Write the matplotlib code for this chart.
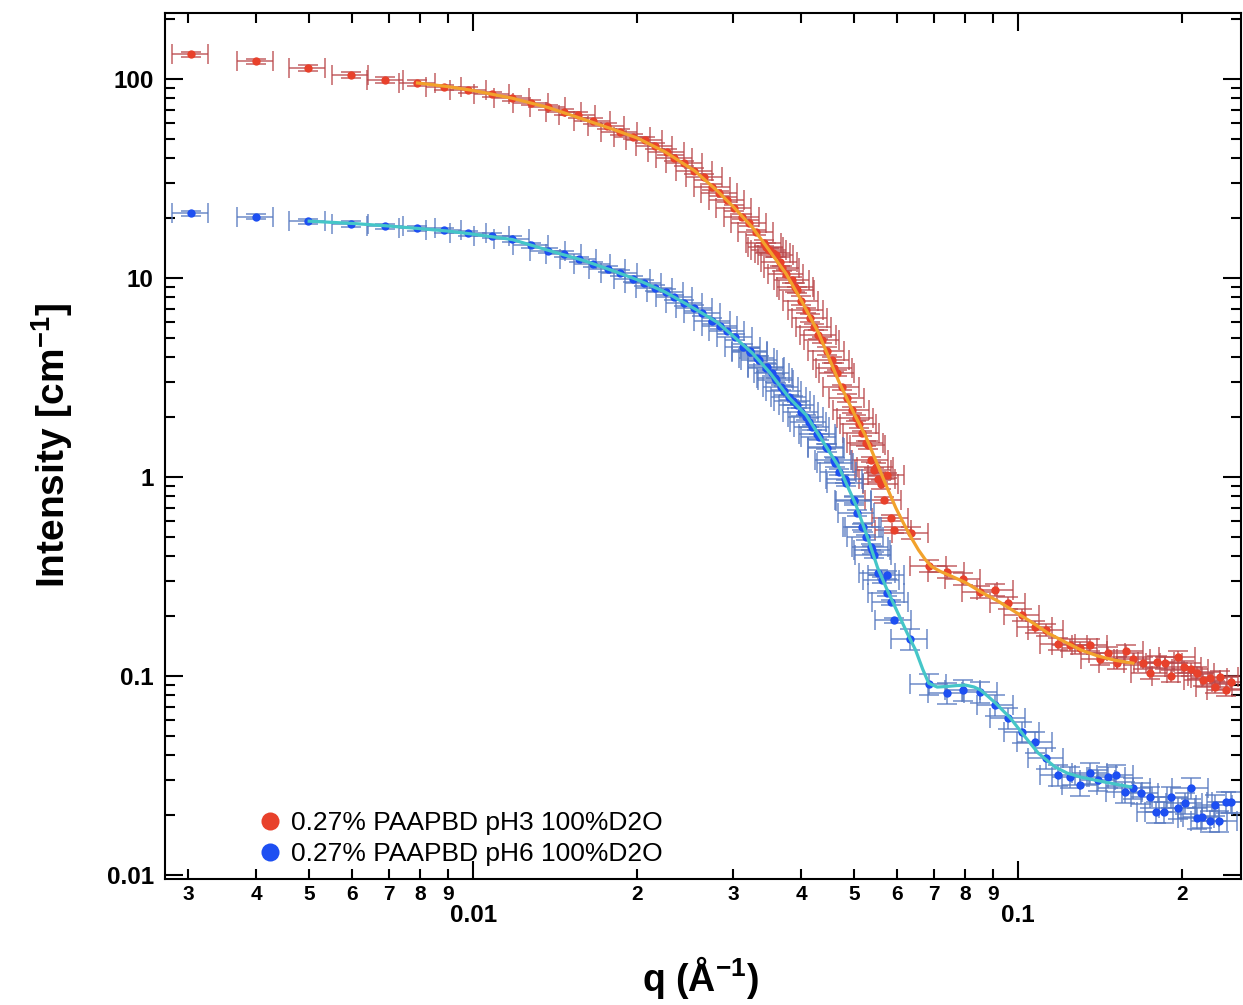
import numpy as np
import matplotlib
matplotlib.use("Agg")
import matplotlib.pyplot as plt
from matplotlib.ticker import FixedLocator, FixedFormatter, NullFormatter
from matplotlib.lines import Line2D

plt.rcParams['font.family'] = ['Liberation Sans', 'DejaVu Sans']
plt.rcParams['font.weight'] = 'bold'
plt.rcParams['mathtext.fontset'] = 'custom'
plt.rcParams['mathtext.rm'] = 'Liberation Sans:bold'
plt.rcParams['mathtext.bf'] = 'Liberation Sans:bold'

# ---------------- data ----------------
series_labels = ["0.27% PAAPBD pH3 100%D2O", "0.27% PAAPBD pH6 100%D2O"]

# pH3 (red) - low-q configuration
q_red_low = [0.00303, 0.00399, 0.00497, 0.00596, 0.00690, 0.00790, 0.00885, 0.00980,
             0.01083, 0.01178, 0.01277, 0.01371, 0.01467, 0.01556, 0.01657, 0.01758,
             0.01857, 0.01961, 0.02063, 0.02151, 0.02263, 0.02340, 0.02441, 0.02546,
             0.02656, 0.02747, 0.02829, 0.02926, 0.03013, 0.03116, 0.03209, 0.03305,
             0.03418, 0.03491, 0.03596, 0.03687, 0.03846, 0.03930, 0.04080, 0.04220,
             0.04364, 0.04551, 0.04649, 0.04747, 0.04951, 0.05035, 0.05164, 0.05252,
             0.05363, 0.05431, 0.05523, 0.05665, 0.05737, 0.05834, 0.05908]
I_red_low = [133, 123, 113.6, 104.7, 98.9, 95.5, 91, 88,
             84, 80, 76, 72, 68.3, 65.9, 61.5, 58.1,
             54.2, 51.2, 49.4, 46.1, 43.0, 40.1, 37.8, 34.5,
             32.2, 28.7, 26.7, 24.7, 22.5, 20.3, 18.9, 17.0,
             15.0, 13.8, 13.1, 11.2, 9.77, 8.71, 6.90, 5.67,
             4.88, 3.87, 3.33, 2.83, 2.17, 1.98, 1.66, 1.48,
             1.22, 1.08, 0.977, 0.766, 1.02, 0.622, 0.542]
# pH3 - overlapping mid configuration
q_red_mid = [0.0345, 0.0355, 0.0365, 0.0375, 0.0390, 0.0400, 0.0415, 0.0430,
             0.0445, 0.0460, 0.0485, 0.0510, 0.0530, 0.0548, 0.0560]
I_red_mid = [14.3, 13.4, 12.1, 10.5, 9.0, 7.7, 6.3, 5.2,
             4.3, 3.55, 2.5, 1.85, 1.45, 1.12, 0.92]
# pH3 - high-q configuration
q_red_high = [0.0635, 0.0685, 0.0739, 0.0793, 0.0852, 0.0908, 0.0959, 0.1017,
              0.1074, 0.1125, 0.1183, 0.1245, 0.1298, 0.1354, 0.1412, 0.1460,
              0.1520, 0.1576, 0.1623, 0.1693, 0.1743, 0.1795, 0.1857, 0.1904,
              0.1961, 0.2012, 0.2072, 0.2125, 0.2179, 0.2244, 0.2292, 0.2350,
              0.2401, 0.2452]
I_red_high = [0.524, 0.357, 0.333, 0.307, 0.264, 0.270, 0.233, 0.203,
              0.176, 0.170, 0.145, 0.143, 0.138, 0.143, 0.122, 0.131,
              0.116, 0.134, 0.122, 0.116, 0.1035, 0.1175, 0.116, 0.100,
              0.1245, 0.111, 0.108, 0.1035, 0.0955, 0.0977, 0.088, 0.0988,
              0.085, 0.093]

# pH6 (blue) - low-q configuration
q_blue_low = [0.00303, 0.00399, 0.00497, 0.00596, 0.00690, 0.00790, 0.00885, 0.00980,
              0.01083, 0.01178, 0.01277, 0.01371, 0.01467, 0.01562, 0.01657, 0.01766,
              0.01857, 0.01961, 0.02054, 0.02151, 0.02254, 0.02340, 0.02441, 0.02546,
              0.02633, 0.02747, 0.02838, 0.02926, 0.03025, 0.03128, 0.03219, 0.03318,
              0.03452, 0.03535, 0.03596, 0.03671, 0.03797, 0.03930, 0.04080, 0.04184,
              0.04309, 0.04438, 0.04590, 0.04688, 0.04828, 0.04993, 0.05056, 0.05164,
              0.05252, 0.05363, 0.05431, 0.05523, 0.05618, 0.05737, 0.05834, 0.05908]
I_blue_low = [21.2, 20.3, 19.3, 18.7, 18.2, 17.8, 17.4, 16.8,
              16.3, 15.7, 14.6, 13.7, 13.2, 12.45, 11.75, 11.1,
              10.6, 9.89, 9.44, 8.91, 8.51, 8.02, 7.49, 7.07,
              6.67, 6.08, 5.74, 5.42, 5.05, 4.50, 4.30, 3.96,
              3.57, 3.33, 3.07, 2.83, 2.52, 2.30, 2.00, 1.78,
              1.59, 1.42, 1.22, 1.06, 0.933, 0.766, 0.659, 0.561,
              0.499, 0.445, 0.406, 0.330, 0.304, 0.261, 0.235, 0.191]
# pH6 - overlapping mid configuration
q_blue_mid = [0.0322, 0.0335, 0.0345, 0.0358, 0.0372, 0.0386, 0.0400, 0.0413,
              0.0428, 0.0445, 0.0462, 0.0480, 0.0500, 0.0520, 0.0540, 0.0574]
I_blue_mid = [4.25, 3.85, 3.55, 3.15, 2.72, 2.42, 2.12, 1.88,
              1.64, 1.40, 1.18, 0.98, 0.76, 0.56, 0.43, 0.322]
# pH6 - high-q configuration
q_blue_high = [0.0632, 0.0685, 0.0739, 0.0793, 0.0852, 0.0908, 0.0959, 0.1017,
               0.1074, 0.1125, 0.1183, 0.1245, 0.1298, 0.1354, 0.1401, 0.1460,
               0.1511, 0.1569, 0.1623, 0.1679, 0.1743, 0.1787, 0.1849, 0.1904,
               0.1961, 0.2020, 0.2072, 0.2125, 0.2170, 0.2244, 0.2292, 0.2340,
               0.2401, 0.2452]
I_blue_high = [0.1535, 0.0912, 0.0822, 0.0851, 0.0832, 0.0715, 0.0615, 0.0524,
               0.0466, 0.0387, 0.0318, 0.0311, 0.0283, 0.0326, 0.030, 0.0311,
               0.0318, 0.0261, 0.0273, 0.0258, 0.0247, 0.0207, 0.0207, 0.0247,
               0.0217, 0.0230, 0.0273, 0.0193, 0.0195, 0.0187, 0.0225, 0.0187,
               0.0233, 0.0233]

# model fits
q_fit_red = [0.0079, 0.0090, 0.0100, 0.0118, 0.0137, 0.0160, 0.0180, 0.0200, 0.0225,
             0.0255, 0.0280, 0.0300, 0.0325, 0.0349, 0.0375, 0.0400, 0.0430, 0.0469,
             0.0499, 0.0525, 0.0552, 0.0575, 0.0596, 0.0615, 0.0635, 0.0656, 0.0675,
             0.0693, 0.0720, 0.0745, 0.0800, 0.0855, 0.0920, 0.0987, 0.1060, 0.1135,
             0.1220, 0.1304, 0.1400, 0.1504, 0.1623]
I_fit_red = [95.5, 91.5, 87.5, 80, 72.0, 62.5, 56, 50.5, 43,
             34.5, 27.5, 22.8, 18.0, 13.8, 10.5, 7.7, 5.3, 3.0,
             2.1, 1.6, 1.15, 0.88, 0.70, 0.59, 0.50, 0.43, 0.385,
             0.355, 0.335, 0.322, 0.295, 0.264, 0.237, 0.210, 0.186, 0.164,
             0.148, 0.135, 0.126, 0.120, 0.116]
q_fit_blue = [0.0050, 0.0060, 0.0069, 0.0080, 0.0090, 0.0100, 0.0118, 0.0137, 0.0160,
              0.0180, 0.0200, 0.0225, 0.0255, 0.0280, 0.0300, 0.0325, 0.0350, 0.0380,
              0.0408, 0.0440, 0.0469, 0.0504, 0.0530, 0.0552, 0.0575, 0.0600, 0.0625,
              0.0648, 0.0668, 0.0685, 0.0710, 0.0739, 0.0770, 0.0800, 0.0830, 0.0852,
              0.0880, 0.0908, 0.0967, 0.1030, 0.1088, 0.1168, 0.1230, 0.1304, 0.1442,
              0.1609]
I_fit_blue = [19.3, 18.8, 18.3, 17.7, 17.2, 16.6, 15.6, 13.8, 12.2,
              10.9, 9.8, 8.5, 7.0, 6.0, 5.1, 4.2, 3.35, 2.5,
              2.05, 1.48, 1.12, 0.72, 0.49, 0.35, 0.27, 0.21, 0.165,
              0.135, 0.108, 0.092, 0.088, 0.0886, 0.0895, 0.090, 0.088, 0.0851,
              0.079, 0.0732, 0.0615, 0.0493, 0.041, 0.0349, 0.0325, 0.031, 0.0293,
              0.0277]

# relative uncertainties (resolution dq/q and dI/I per configuration)
DQ_REL = 0.075
DI_REL_LOW = 0.03
DI_REL_MID = 0.05
DI_REL_HIGH_RED = 0.07
DI_REL_HIGH_BLUE = 0.12

x_minor_ticks = [0.003, 0.004, 0.005, 0.006, 0.007, 0.008, 0.009,
                 0.02, 0.03, 0.04, 0.05, 0.06, 0.07, 0.08, 0.09, 0.2]
x_minor_labels = ['3', '4', '5', '6', '7', '8', '9',
                  '2', '3', '4', '5', '6', '7', '8', '9', '2']
x_major_ticks = [0.01, 0.1]
x_major_labels = ['0.01', '0.1']
y_major_ticks = [0.01, 0.1, 1, 10, 100]
y_major_labels = ['0.01', '0.1', '1', '10', '100']

# ---------------- styling ----------------
RED_BAR = '#b9474a'
RED_DOT = '#e8412b'
BLUE_BAR = '#5578c0'
BLUE_DOT = '#1d4ff2'
ORANGE = '#f2a22c'
CYAN = '#45c6c8'

fig = plt.figure(figsize=(12.43, 10.05), dpi=100)
ax = fig.add_axes([0.1327, 0.1254, 0.8657, 0.8617])
ax.set_xscale('log')
ax.set_yscale('log')


def draw(q, I, rel_y, ecolor, mcolor):
    q = np.asarray(q, dtype=float)
    I = np.asarray(I, dtype=float)
    ax.errorbar(q, I, xerr=DQ_REL * q, yerr=rel_y * I, fmt='none', ecolor=ecolor,
                elinewidth=1.1, capsize=7, capthick=1.1, alpha=0.85, zorder=2)
    ax.plot(q, I, 'o', color=mcolor, ms=6, mec='none', zorder=3)


draw(q_red_low, I_red_low, DI_REL_LOW, RED_BAR, RED_DOT)
draw(q_red_mid, I_red_mid, DI_REL_MID, RED_BAR, RED_DOT)
draw(q_red_high, I_red_high, DI_REL_HIGH_RED, RED_BAR, RED_DOT)
draw(q_blue_low, I_blue_low, DI_REL_LOW, BLUE_BAR, BLUE_DOT)
draw(q_blue_mid, I_blue_mid, DI_REL_MID, BLUE_BAR, BLUE_DOT)
draw(q_blue_high, I_blue_high, DI_REL_HIGH_BLUE, BLUE_BAR, BLUE_DOT)

ax.plot(q_fit_red, I_fit_red, '-', color=ORANGE, lw=2.3, zorder=4)
ax.plot(q_fit_blue, I_fit_blue, '-', color=CYAN, lw=2.3, zorder=4)

ax.set_xlim(0.002718, 0.2563)
ax.set_ylim(0.00955, 214.7)

ax.xaxis.set_major_locator(FixedLocator(x_major_ticks))
ax.xaxis.set_major_formatter(FixedFormatter(x_major_labels))
ax.xaxis.set_minor_locator(FixedLocator(x_minor_ticks))
ax.xaxis.set_minor_formatter(FixedFormatter(x_minor_labels))
ax.yaxis.set_major_locator(FixedLocator(y_major_ticks))
ax.yaxis.set_major_formatter(FixedFormatter(y_major_labels))
y_minor = [m * 10.0 ** e for e in range(-2, 3) for m in range(2, 10) if m * 10.0 ** e < 214]
ax.yaxis.set_minor_locator(FixedLocator(y_minor))
ax.yaxis.set_minor_formatter(NullFormatter())

ax.tick_params(which='both', direction='in', top=True, right=True, width=1.5, color='black')
ax.tick_params(which='major', length=13)
ax.tick_params(which='minor', length=7)
ax.tick_params(axis='x', which='major', labelsize=17.5, pad=18)
ax.tick_params(axis='x', which='minor', labelsize=15, pad=4)
ax.tick_params(axis='y', which='major', labelsize=17.5, pad=8)
for s in ax.spines.values():
    s.set_linewidth(1.5)

# legend
handles = [Line2D([], [], ls='none', marker='o', ms=13, color=RED_DOT, mec='none'),
           Line2D([], [], ls='none', marker='o', ms=13, color=BLUE_DOT, mec='none')]
ax.legend(handles, series_labels, loc='lower left', bbox_to_anchor=(0.085, 0.015),
          frameon=False, prop={'size': 19, 'weight': 'normal'}, handletextpad=0.3,
          labelspacing=0.25, handlelength=1.0, borderpad=0, borderaxespad=0)

# axis labels
fig.text(0.042, 0.557, r'Intensity [cm$^{\mathbf{-1}}$]', rotation=90, fontsize=28,
         fontweight='bold', ha='center', va='center')
fig.text(0.5633, 0.027, r'q (Å$^{\mathbf{-1}}$)', fontsize=27, fontweight='bold',
         ha='center', va='center')

fig.savefig('out.png', dpi=100)
